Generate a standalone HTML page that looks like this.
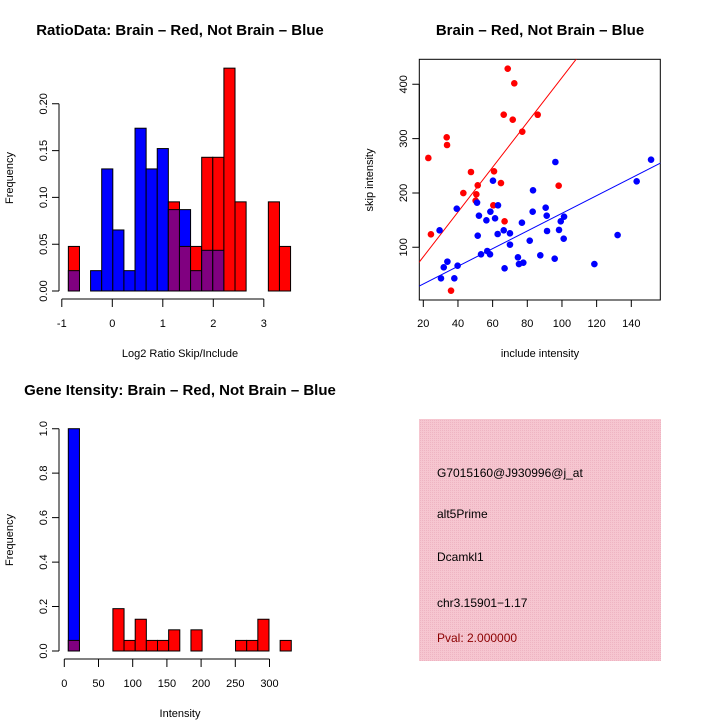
<!DOCTYPE html>
<html><head><meta charset="utf-8"><style>
body{margin:0;background:#fff}
svg{display:block;font-family:"Liberation Sans",sans-serif}
</style></head><body>
<svg id="c" width="720" height="720" viewBox="0 0 720 720">
<rect width="720" height="720" fill="#fff"/>
<g id="h1"></g>
<g id="sc"></g>
<g id="h2"></g>
<g>
<defs><pattern id="pk" width="2" height="2" patternUnits="userSpaceOnUse"><rect width="2" height="2" fill="#f6c6d0"/><rect width="1" height="1" fill="#eeb4c2"/></pattern></defs>
<rect x="419" y="419" width="242" height="242" fill="url(#pk)"/>
<text x="437" y="477" font-size="12">G7015160@J930996@j_at</text>
<text x="437" y="518" font-size="12">alt5Prime</text>
<text x="437" y="561" font-size="12">Dcamkl1</text>
<text x="437" y="607" font-size="12">chr3.15901−1.17</text>
<text x="437" y="642" font-size="12" fill="#8b0000">Pval: 2.000000</text>
</g>
</svg>
<script>
// Histogram 1 data
const h1Red = [1/21,0,0,0,0,0,0,0,0,2/21,1/21,1/21,3/21,3/21,5/21,2/21,0,0,2/21,1/21];
const h1Blue = [1/46,0,1/46,6/46,3/46,1/46,8/46,6/46,7/46,4/46,4/46,1/46,2/46,2/46,0,0,0,0,0,0];
const h1XTicks = [-1,0,1,2,3];
const h1YTicks = [0,0.05,0.10,0.15,0.20];
const h1BinStart = -0.87, h1BinW = 0.22;
// Scatter data
const redX = [68.7,72.5,66.4,71.6,86,77.1,33.5,33.7,22.9,47.5,60.8,51.4,64.8,43.1,50.6,50.2,60.4,66.9,24.4,36,98.1];
const redY = [428.8,401.8,344.1,334.9,344,312.8,302.4,288.3,264.4,238.6,239.9,214.1,218.3,199.9,197.5,185.8,177.3,147.8,123.9,20.2,213.4];
const blueX = [96.2,151.4,143.1,60.2,83.3,51,63.1,39.3,90.6,58.7,83.1,52.1,91.2,56.4,61.4,76.9,99.3,101.2,29.4,66.4,91.4,98.3,62.9,70,51.4,101,132.1,81.4,70,56.9,53.3,58.5,87.5,74.6,95.8,33.9,39.8,31.8,75.2,77.7,118.7,66.9,30.2,37.9];
const blueY = [257,261.3,221.4,222.6,204.9,182.2,177.3,171.1,172.9,165.6,165.6,158.2,158.2,149.6,153.3,145.3,147.8,156.4,131.2,131.2,130,132,124.5,125.7,121.4,115.9,122.6,112.2,104.9,93.2,87.1,87.1,85.2,81.5,79.1,73.6,66.2,63.1,69.2,71.7,69.2,61.3,42.9,42.9];
const scXTicks = [20,40,60,80,100,120,140];
const scYTicks = [100,200,300,400];
// Histogram 2 data
const h2Red = [1/21,0,0,0,4/21,1/21,3/21,1/21,1/21,2/21,0,2/21,0,0,0,1/21,1/21,3/21,0,1/21];
const h2Blue = [1,0,0,0,0,0,0,0,0,0,0,0,0,0,0,0,0,0,0,0];
const h2XTicks = [0,50,100,150,200,250,300];
const h2YTicks = [0,0.2,0.4,0.6,0.8,1.0];
const h2BinStart = 5.85, h2BinW = 16.3;

const NS='http://www.w3.org/2000/svg';
function mk(p,t,a){const e=document.createElementNS(NS,t);for(const k in a)e.setAttribute(k,a[k]);p.appendChild(e);return e;}

function hist(g,red,blue,bs,bw,x,y,xt,yt,xfmt,yfmt,axY,axX,title,titleX,xlab,ylabY){
  for(let i=0;i<red.length;i++){
    const x0=x(bs+i*bw), x1=x(bs+(i+1)*bw), r=red[i], b=blue[i];
    const draw=(v,c,nm)=>{const e=mk(g,'rect',{x:x0,y:y(v),width:x1-x0,height:y(0)-y(v),fill:c,stroke:'#000','stroke-width':1});
      
      };
    if(r>0&&b>0){ if(r>=b){draw(r,'#f00','bar-red-'+i);draw(b,'#800080','bar-overlap-'+i);} else {draw(b,'#00f','bar-blue-'+i);draw(r,'#800080','bar-overlap-'+i);} }
    else if(r>0) draw(r,'#f00','bar-red-'+i);
    else if(b>0) draw(b,'#00f','bar-blue-'+i);
  }
  const ya=mk(g,'path',{d:`M${axX} ${y(yt[0])}V${y(yt[yt.length-1])}`+yt.map(v=>`M${axX} ${y(v)}h-7`).join(''),stroke:'#000',fill:'none'});
  
  
  yt.forEach(v=>{const t=mk(g,'text',{x:0,y:0,'font-size':11,'text-anchor':'middle',transform:`translate(${axX-12},${y(v)}) rotate(-90)`});t.textContent=yfmt(v);
    
    });
  const xa=mk(g,'path',{d:`M${x(xt[0])} ${axY}H${x(xt[xt.length-1])}`+xt.map(v=>`M${x(v)} ${axY}v8`).join(''),stroke:'#000',fill:'none'});
  
  
  xt.forEach(v=>{const t=mk(g,'text',{x:x(v),y:axY+28,'font-size':11,'text-anchor':'middle'});t.textContent=xfmt(v);
    
    });
  const ti=mk(g,'text',{x:titleX,y:axY-264,'font-size':15,'font-weight':'bold','text-anchor':'middle'});ti.textContent=title;
  
  
  const xl=mk(g,'text',{x:180,y:axY+58,'font-size':11,'text-anchor':'middle'});xl.textContent=xlab;
  
  
  const yl=mk(g,'text',{x:0,y:0,'font-size':11,'text-anchor':'middle',transform:`translate(13,${ylabY}) rotate(-90)`});yl.textContent='Frequency';
  
  
}
const h1x=v=>112.3+50.5*v, h1y=v=>291-v*936;
hist(document.getElementById('h1'),h1Red,h1Blue,h1BinStart,h1BinW,h1x,h1y,h1XTicks,h1YTicks,v=>String(v),v=>v.toFixed(2),299,59,'RatioData: Brain – Red, Not Brain – Blue',180,'Log2 Ratio Skip/Include',178);
const h2x=v=>64.3+0.684*v, h2y=v=>651-v*222.3;
hist(document.getElementById('h2'),h2Red,h2Blue,h2BinStart,h2BinW,h2x,h2y,h2XTicks,h2YTicks,v=>String(v),v=>v.toFixed(1),659,59,'Gene Itensity: Brain – Red, Not Brain – Blue',180,'Intensity',540);

// scatter
(function(){
  const g=document.getElementById('sc');
  const x=v=>423.3+(v-20)*1.7333, y=v=>247.3-(v-100)*0.5433;
  const L=419.3,R=660.3,T=59.3,B=300;
  mk(g,'defs',{}).innerHTML='<clipPath id="scc"><rect x="419.3" y="59.3" width="241" height="240.7"/></clipPath>';
  const box=mk(g,'rect',{x:L,y:T,width:R-L,height:B-T,fill:'none',stroke:'#000'});
  
  
  const fit=(X,Y)=>{let a=0,b=0;for(let i=0;i<X.length;i++){a+=X[i]*Y[i];b+=X[i]*X[i];}return a/b;};
  [[redX,redY,'#f00','red'],[blueX,blueY,'#00f','blue']].forEach(([X,Y,c,n])=>{
    const k=fit(X,Y);
    const ln=mk(g,'line',{x1:x(0),y1:y(0),x2:x(200),y2:y(200*k),stroke:c,'stroke-width':1,'clip-path':'url(#scc)'});
    
    
    for(let i=0;i<X.length;i++){const p=mk(g,'circle',{cx:x(X[i]),cy:y(Y[i]),r:3.3,fill:c});
      
      }
  });
  const xa=mk(g,'path',{d:`M${x(20)} ${B}H${x(140)}`+scXTicks.map(v=>`M${x(v)} ${B}v7`).join(''),stroke:'#000',fill:'none'});
  
  
  scXTicks.forEach(v=>{const t=mk(g,'text',{x:x(v),y:327,'font-size':11,'text-anchor':'middle'});t.textContent=v;
    
    });
  const ya=mk(g,'path',{d:`M${L} ${y(100)}V${y(400)}`+scYTicks.map(v=>`M${L} ${y(v)}h-7`).join(''),stroke:'#000',fill:'none'});
  
  
  scYTicks.forEach(v=>{const t=mk(g,'text',{x:0,y:0,'font-size':11,'text-anchor':'middle',transform:`translate(407,${y(v)}) rotate(-90)`});t.textContent=v;
    
    });
  const ti=mk(g,'text',{x:540,y:35,'font-size':15,'font-weight':'bold','text-anchor':'middle'});ti.textContent='Brain – Red, Not Brain – Blue';
  
  
  const xl=mk(g,'text',{x:540,y:357,'font-size':11,'text-anchor':'middle'});xl.textContent='include intensity';
  
  
  const yl=mk(g,'text',{x:0,y:0,'font-size':11,'text-anchor':'middle',transform:`translate(373,180) rotate(-90)`});yl.textContent='skip intensity';
  
  
})();
</script>
</body></html>
